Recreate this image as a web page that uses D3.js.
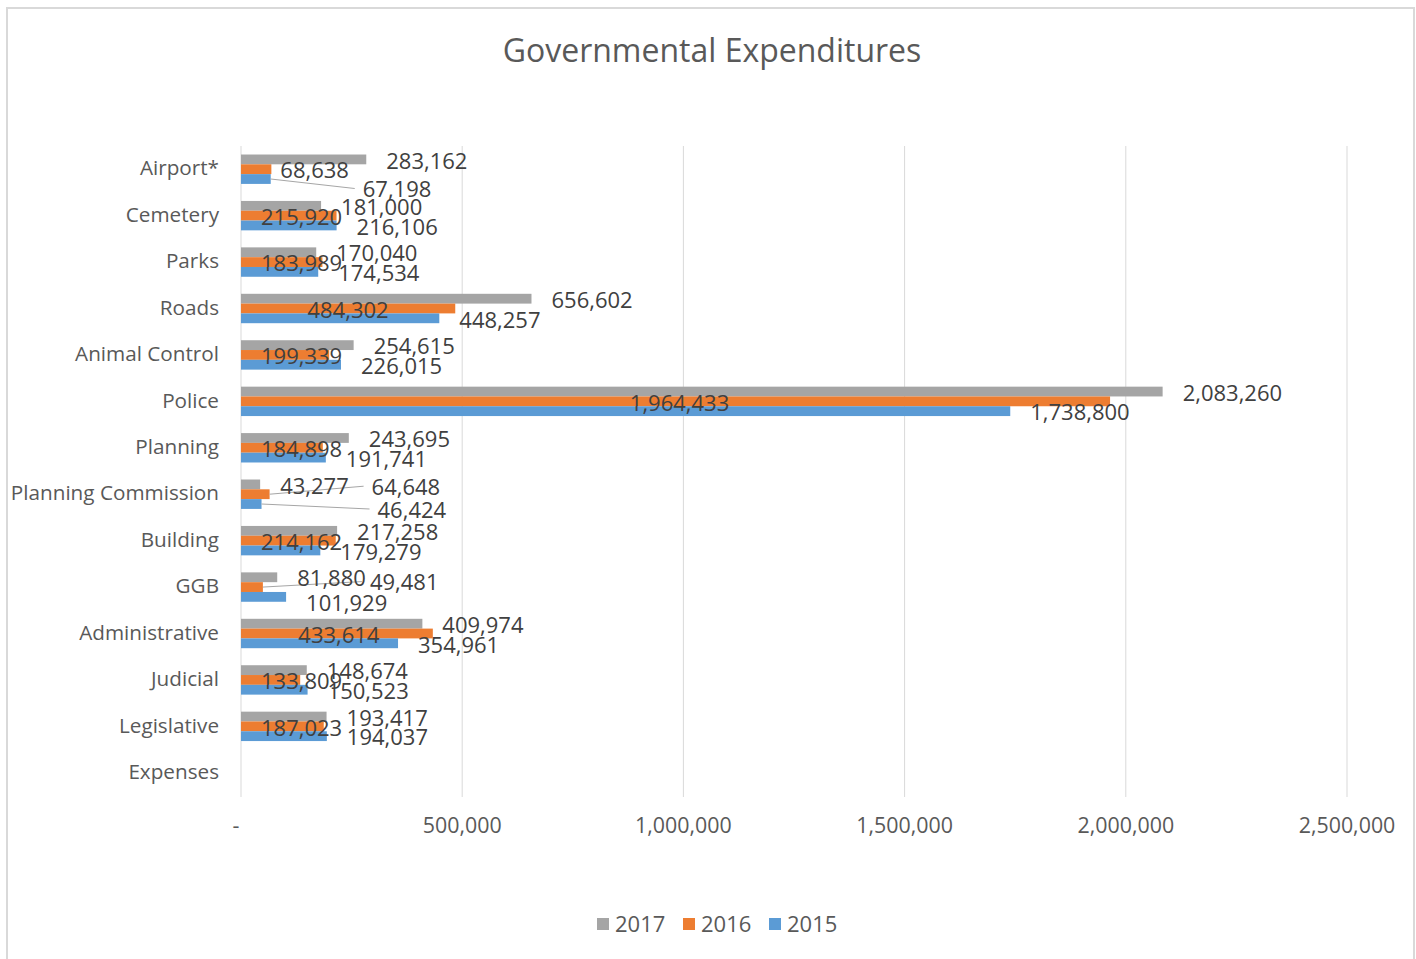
<!DOCTYPE html>
<meta charset="utf-8">
<head>
  <title>Governmental Expenditures</title>
</head>

<style>
  body {
    margin: 0;
    background: #fff;
    font-family: "Open Sans", sans-serif;
  }
  svg text {
    fill: #595959;
  }
  .grid line {
    stroke: #d9d9d9;
    stroke-width: 1px;
  }
  .leader {
    stroke: #a6a6a6;
    stroke-width: 1px;
    fill: none;
  }
</style>

<body>
  <svg width="1416" height="959"></svg>

  <script src="https://cdn.jsdelivr.net/npm/d3@7"></script>

  <script>
    // categories, top to bottom as in the chart
    var categories = ["Airport*", "Cemetery", "Parks", "Roads", "Animal Control", "Police",
      "Planning", "Planning Commission", "Building", "GGB", "Administrative", "Judicial",
      "Legislative", "Expenses"];

    var years = ["2017", "2016", "2015"];

    var v2017 = [283162, 181000, 170040, 656602, 254615, 2083260, 243695, 43277, 217258, 81880, 409974, 148674, 193417, null];
    var v2016 = [68638, 215920, 183989, 484302, 199339, 1964433, 184898, 64648, 214162, 49481, 433614, 133809, 187023, null];
    var v2015 = [67198, 216106, 174534, 448257, 226015, 1738800, 191741, 46424, 179279, 101929, 354961, 150523, 194037, null];

    var tickValues = [0, 500000, 1000000, 1500000, 2000000, 2500000];

    var colors = {"2017": "#a5a5a5", "2016": "#ed7d31", "2015": "#5b9bd5"};

    // where excel had the data labels dragged to (default is just past the bar end)
    var labelPlace = {
      "Airport*|2016": {dx: 9},
      "Airport*|2015": {dx: 92, dy: 10.5, leader: true},
      "Cemetery|2016": {mode: "base"},
      "Parks|2016": {mode: "base"},
      "Roads|2016": {mode: "mid"},
      "Animal Control|2016": {mode: "base"},
      "Police|2016": {mode: "mid", dx: 4},
      "Planning|2016": {mode: "base"},
      "Planning Commission|2016": {dx: 102, dy: -7, leader: true},
      "Planning Commission|2015": {dx: 116, dy: 6, leader: true},
      "Building|2016": {mode: "base"},
      "GGB|2016": {dx: 107, dy: -4.5, leader: true},
      "GGB|2015": {dy: 6.5},
      "Administrative|2016": {mode: "mid", dx: 2},
      "Judicial|2016": {mode: "base"},
      "Legislative|2016": {mode: "base"}
    };

    var values = {"2017": v2017, "2016": v2016, "2015": v2015};

    var rows = [];
    categories.forEach(function(c, i) {
      years.forEach(function(yr) {
        if (values[yr][i] != null) rows.push({cat: c, year: yr, value: values[yr][i]});
      });
    });

    var svg = d3.select("svg");

    // chart frame
    svg.append("rect")
      .attr("x", 7).attr("y", 8)
      .attr("width", 1407).attr("height", 955)
      .attr("fill", "#fff")
      .attr("stroke", "#d9d9d9")
      .attr("stroke-width", 2);

    var x = d3.scaleLinear().domain([0, 2500000]).range([241, 1347]);
    var y = d3.scaleBand().domain(categories).range([145, 795]);
    var barH = 9.8;
    var yIn = d3.scaleBand().domain(years)
      .range([(y.bandwidth() - 3 * barH) / 2 + 1, (y.bandwidth() + 3 * barH) / 2 + 1]);

    // gridlines
    svg.append("g").attr("class", "grid")
      .selectAll("line")
      .data(tickValues)
      .join("line")
      .attr("x1", function(d) { return x(d); })
      .attr("x2", function(d) { return x(d); })
      .attr("y1", 146)
      .attr("y2", 797);

    // x axis labels
    var fmt = d3.format(",");
    svg.append("g")
      .selectAll("text")
      .data(tickValues)
      .join("text")
      .attr("x", function(d) { return d === 0 ? x(d) - 5 : x(d); })
      .attr("y", 826)
      .attr("dy", "0.35em")
      .attr("text-anchor", "middle")
      .style("font-size", "21.4px")
      .text(function(d) { return d === 0 ? "-" : fmt(d); });

    // category labels
    svg.append("g")
      .selectAll("text")
      .data(categories)
      .join("text")
      .attr("x", 219)
      .attr("y", function(d) { return y(d) + y.bandwidth() / 2; })
      .attr("dy", "0.35em")
      .attr("text-anchor", "end")
      .style("font-size", "20.7px")
      .text(function(d) { return d; });

    // bars
    svg.append("g")
      .selectAll("rect")
      .data(rows)
      .join("rect")
      .attr("x", x(0))
      .attr("y", function(d) { return y(d.cat) + yIn(d.year); })
      .attr("width", function(d) { return x(d.value) - x(0); })
      .attr("height", yIn.bandwidth())
      .attr("fill", function(d) { return colors[d.year]; });

    // work out the label positions
    rows.forEach(function(d) {
      var p = labelPlace[d.cat + "|" + d.year] || {};
      var mode = p.mode || "out";
      var cy = y(d.cat) + yIn(d.year) + yIn.bandwidth() / 2;
      d.barEnd = x(d.value);
      d.barY = cy;
      d.ly = cy + (p.dy != null ? p.dy : 1.5);
      d.leader = !!p.leader;
      if (mode === "out") {
        d.lx = d.barEnd + (p.dx != null ? p.dx : 20);
        d.anchor = "start";
      } else if (mode === "base") {
        d.lx = x(0) + 20;
        d.anchor = "start";
      } else {
        d.lx = (x(0) + d.barEnd) / 2 + (p.dx || 0);
        d.anchor = "middle";
      }
    });

    // leader lines for the dragged labels
    svg.append("g")
      .selectAll("line")
      .data(rows.filter(function(d) { return d.leader; }))
      .join("line")
      .attr("class", "leader")
      .attr("x1", function(d) { return d.barEnd; })
      .attr("y1", function(d) { return d.barY; })
      .attr("x2", function(d) { return d.lx - 8; })
      .attr("y2", function(d) { return d.ly - 1; });

    // data labels
    svg.append("g")
      .selectAll("text")
      .data(rows)
      .join("text")
      .attr("x", function(d) { return d.lx; })
      .attr("y", function(d) { return d.ly; })
      .attr("dy", "0.35em")
      .attr("text-anchor", function(d) { return d.anchor; })
      .style("font-size", "22px")
      .style("fill", "#404040")
      .text(function(d) { return fmt(d.value); });

    // title
    svg.append("text")
      .attr("x", 712)
      .attr("y", 51)
      .attr("dy", "0.35em")
      .attr("text-anchor", "middle")
      .style("font-size", "32px")
      .text("Governmental Expenditures");

    // legend
    var legend = svg.append("g")
      .selectAll("g")
      .data(years)
      .join("g")
      .attr("transform", function(d, i) { return "translate(" + (597 + i * 86) + ",924)"; });
    legend.append("rect")
      .attr("x", 0).attr("y", -6)
      .attr("width", 12).attr("height", 12)
      .attr("fill", function(d) { return colors[d]; });
    legend.append("text")
      .attr("x", 18)
      .attr("dy", "0.35em")
      .style("font-size", "22px")
      .text(function(d) { return d; });
  </script>
</body>
</html>
